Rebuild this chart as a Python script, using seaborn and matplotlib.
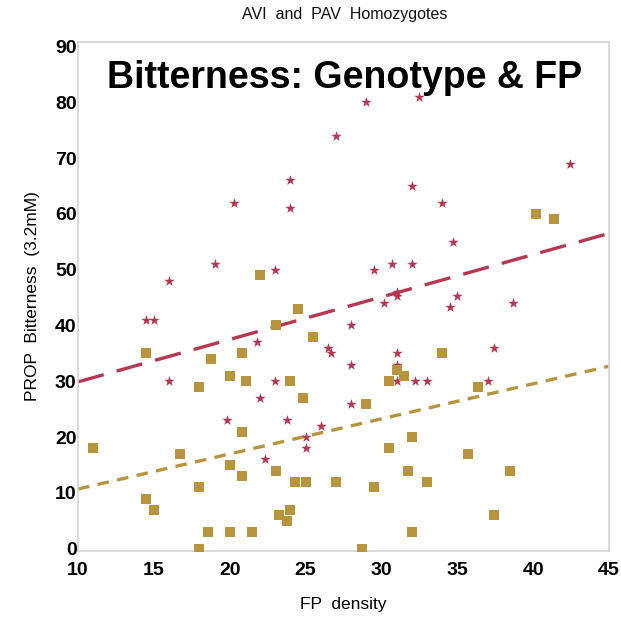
import seaborn as sns
import pandas as pd
import matplotlib.pyplot as plt

# PAV homozygotes (red stars)
pav_fp = [29, 32.5, 27, 24, 20.3, 24, 19, 23, 16, 42.4, 32, 34, 34.7, 29.5,
          30.7, 32, 31, 31, 30.2, 35, 34.5, 38.7, 28, 31, 37.4, 28, 31, 31,
          32.2, 33, 37, 28, 14.5, 15, 16, 21.8, 23, 22, 19.8, 23.8, 22.3, 26,
          25, 25, 26.5, 26.7]
pav_bitter = [80, 81, 74, 66, 62, 61, 51, 50, 48, 69, 65, 62, 55, 50,
              51, 51, 46, 45.2, 44.1, 45.2, 43.4, 44.1, 40, 35, 36, 33, 33, 30,
              30, 30, 30, 26, 41, 41, 30, 37, 30, 27, 23, 23, 16, 22,
              20, 18, 36, 35]

# AVI homozygotes (gold squares)
avi_fp = [22.0, 24.5, 23.05, 25.5, 14.5, 20.8, 18.8, 20, 21.1, 24, 18, 24.8,
          20.8, 11, 16.7, 20, 23.05, 20.8, 24.3, 25, 27, 18, 14.5, 15, 23.25,
          24, 23.8, 18.6, 20, 21.5, 18, 34, 31, 31.5, 30.5, 36.4, 29, 32,
          30.5, 35.7, 31.75, 38.5, 33, 29.5, 37.4, 32, 28.7, 40.2, 41.4]
avi_bitter = [49, 43, 40, 38, 35, 35, 34, 31, 30, 30, 29, 27,
              21, 18, 17, 15, 14, 13, 12, 12, 12, 11, 9, 7, 6,
              7, 5, 3, 3, 3, 0, 35, 32, 31, 30, 29, 26, 20,
              18, 17, 14, 14, 12, 11, 6, 3, 0, 60, 59]

# fitted lines (end points)
fit_fp = [10, 45]
pav_fit = [29.9, 56.5]
avi_fit = [10.7, 32.7]

RED = '#b8364f'
GOLD = '#b8953c'


def main():
    sns.set_theme(style='white')
    plt.rcParams['font.family'] = ['Liberation Sans', 'DejaVu Sans']

    fig = plt.figure(figsize=(6.21, 6.17), dpi=100)
    ax = fig.add_axes([0.1256, 0.107, 0.855, 0.825])

    sns.lineplot(x=fit_fp, y=pav_fit, ax=ax, color=RED, linewidth=2.4,
                 linestyle=(0, (8, 4)))
    sns.lineplot(x=fit_fp, y=avi_fit, ax=ax, color=GOLD, linewidth=2.4,
                 linestyle=(0, (3.5, 2.5)))

    pav = pd.DataFrame({'fp': pav_fp, 'bitter': pav_bitter})
    avi = pd.DataFrame({'fp': avi_fp, 'bitter': avi_bitter})
    sns.scatterplot(data=pav, x='fp', y='bitter', marker='*', s=62,
                    color=RED, linewidth=0, ax=ax, zorder=3)
    sns.scatterplot(data=avi, x='fp', y='bitter', marker='s', s=55,
                    color=GOLD, linewidth=0, ax=ax, zorder=3)

    ax.set_xlim(10, 45)
    ax.set_ylim(-0.4, 90.8)
    ax.set_xticks(range(10, 46, 5))
    ax.set_yticks(range(0, 91, 10))
    ax.tick_params(axis='x', length=0, pad=8, labelsize=14, colors='black')
    ax.tick_params(axis='y', length=0, pad=1, labelsize=14, colors='black')
    for lab in ax.get_xticklabels() + ax.get_yticklabels():
        lab.set_fontweight('bold')
    for s in ax.spines.values():
        s.set_color('#d4d4d4')
        s.set_linewidth(1.2)

    ax.set_xlabel('FP  density', fontsize=12.5, color='black')
    ax.set_ylabel('PROP  Bitterness  (3.2mM)', fontsize=12.5, color='black')
    ax.xaxis.set_label_coords(0.5, -0.09)
    ax.yaxis.set_label_coords(-0.072, 0.5)

    fig.text(0.555, 0.976, 'AVI  and  PAV  Homozygotes', ha='center',
             va='center', fontsize=11.5, color='#111111')
    fig.text(0.555, 0.857, 'Bitterness: Genotype & FP', ha='center',
             va='baseline', fontsize=27, fontweight='bold', color='black')

    fig.savefig('out.png', dpi=100)


if __name__ == '__main__':
    main()
